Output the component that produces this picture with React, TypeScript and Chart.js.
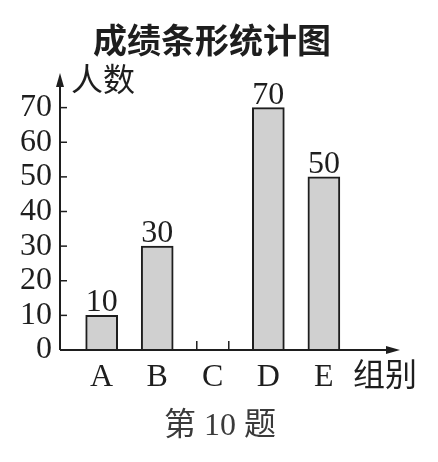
import React, { useEffect, useRef } from "react";
import { Chart, registerables } from "chart.js";

Chart.register(...registerables);

const chartTitle = "成绩条形统计图";
const yAxisTitle = "人数";
const xAxisTitle = "组别";
const caption = "第 10 题";
const groups = ["A", "B", "C", "D", "E"];
const counts: (number | null)[] = [10, 30, null, 70, 50];
const yTickValues = [0, 10, 20, 30, 40, 50, 60, 70];
const yMax = 80;
const xMin = 0.25;
const xMax = 6.37;

const SERIF = '"Liberation Serif", "Times New Roman", serif';
const CJK = '"Noto Sans CJK SC", sans-serif';
const INK = "#1e1e1e";

const decorPlugin = {
  id: "decor",
  afterDatasetsDraw(chart: any) {
    const { ctx, chartArea, scales } = chart;
    const xs = scales.x;
    const ys = scales.y;
    const left = chartArea.left;
    const right = chartArea.right;
    const top = chartArea.top;
    const y0 = ys.getPixelForValue(0);
    ctx.save();
    ctx.strokeStyle = INK;
    ctx.fillStyle = INK;
    ctx.lineWidth = 2;
    // y axis
    ctx.beginPath();
    ctx.moveTo(left, y0);
    ctx.lineTo(left, top + 10);
    ctx.stroke();
    ctx.beginPath();
    ctx.moveTo(left, top);
    ctx.lineTo(left - 4, top + 14);
    ctx.lineTo(left + 4, top + 14);
    ctx.closePath();
    ctx.fill();
    // x axis
    ctx.beginPath();
    ctx.moveTo(left, y0);
    ctx.lineTo(right - 10, y0);
    ctx.stroke();
    ctx.beginPath();
    ctx.moveTo(right, y0);
    ctx.lineTo(right - 14, y0 - 4);
    ctx.lineTo(right - 14, y0 + 4);
    ctx.closePath();
    ctx.fill();
    // y tick marks (inside)
    ctx.lineWidth = 1.5;
    yTickValues.forEach((v) => {
      if (v === 0) return;
      const py = ys.getPixelForValue(v);
      ctx.beginPath();
      ctx.moveTo(left, py);
      ctx.lineTo(left + 7, py);
      ctx.stroke();
    });
    // marks for empty groups
    const meta = chart.getDatasetMeta(0);
    const half = 16;
    counts.forEach((c, i) => {
      if (c !== null) return;
      const px = xs.getPixelForValue(i + 1);
      [px - half, px + half].forEach((mx) => {
        ctx.beginPath();
        ctx.moveTo(mx, y0);
        ctx.lineTo(mx, y0 - 9);
        ctx.stroke();
      });
    });
    // value labels
    ctx.font = `32px ${SERIF}`;
    ctx.textAlign = "center";
    ctx.textBaseline = "alphabetic";
    meta.data.forEach((el: any, i: number) => {
      const c = counts[i];
      if (c === null || c === undefined) return;
      ctx.fillText(String(c), el.x, el.y - 4);
    });
    // texts
    ctx.textBaseline = "middle";
    ctx.textAlign = "center";
    ctx.font = `bold 34px ${CJK}`;
    ctx.fillText(chartTitle, 212, 40);
    ctx.textAlign = "left";
    ctx.font = `32px ${CJK}`;
    ctx.fillText(yAxisTitle, left + 11, top + 6);
    ctx.fillText(xAxisTitle, right - 47, y0 + 24);
    ctx.textAlign = "center";
    ctx.fillStyle = "#3a3a3a";
    ctx.font = `32px "Liberation Serif", ${CJK}`;
    ctx.fillText(caption, 220, 427);
    ctx.restore();
  },
};

export default function App() {
  const ref = useRef<HTMLCanvasElement | null>(null);
  useEffect(() => {
    if (!ref.current) return;
    const chart = new Chart(ref.current, {
      type: "bar",
      data: {
        datasets: [
          {
            data: groups.map((g, i) => ({ x: i + 1, y: counts[i] })) as any,
            backgroundColor: "#d0d0d0",
            borderColor: INK,
            borderWidth: 2,
            barThickness: 32,
          },
        ],
      },
      options: {
        animation: false,
        responsive: false,
        devicePixelRatio: 1,
        layout: { padding: { top: 73, right: 38, left: 0, bottom: 0 } },
        plugins: { legend: { display: false }, tooltip: { enabled: false }, title: { display: false } },
        scales: {
          x: {
            type: "linear",
            offset: false,
            min: xMin,
            max: xMax,
            afterBuildTicks: (s: any) => {
              s.ticks = groups.map((g, i) => ({ value: i + 1 }));
            },
            afterFit: (s: any) => {
              s.height = 112;
            },
            grid: { display: false, drawTicks: false, offset: false },
            border: { display: false },
            ticks: {
              padding: 8,
              autoSkip: false,
              color: INK,
              font: { family: SERIF, size: 32 },
              callback: (v: any) => groups[Number(v) - 1] ?? "",
              maxRotation: 0,
            },
          },
          y: {
            min: 0,
            max: yMax,
            afterBuildTicks: (s: any) => {
              s.ticks = yTickValues.map((v) => ({ value: v }));
            },
            afterFit: (s: any) => {
              s.width = 60;
            },
            grid: { display: false, drawTicks: false },
            border: { display: false },
            ticks: {
              padding: 8,
              autoSkip: false,
              color: INK,
              font: { family: SERIF, size: 32 },
            },
          },
        },
      },
      plugins: [decorPlugin],
    });
    return () => chart.destroy();
  }, []);
  return (
    <div style={{ position: "absolute", left: 0, top: 0, width: 438, height: 462, background: "#fff" }}>
      <canvas ref={ref} width={438} height={462} style={{ width: 438, height: 462 }} />
    </div>
  );
}
